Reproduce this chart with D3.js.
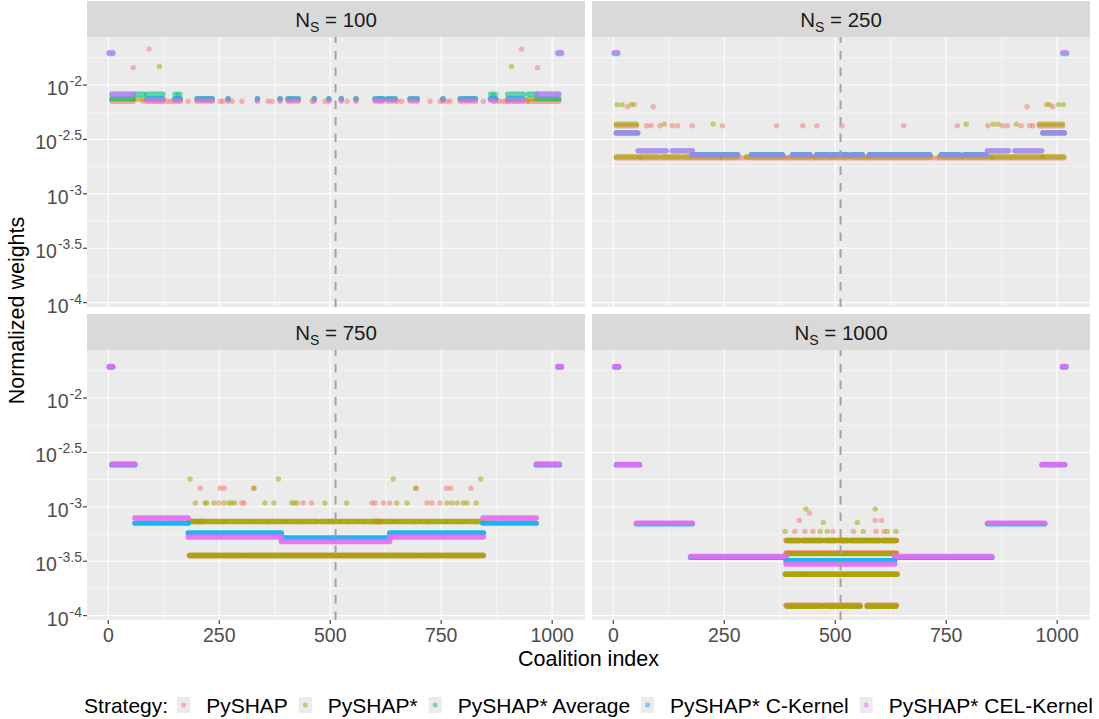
<!DOCTYPE html>
<html lang="en">
<head>
<meta charset="utf-8">
<title>Normalized weights by coalition index</title>
<script src="https://cdn.jsdelivr.net/npm/d3@7"></script>
<style>
  body { margin: 0; background: #fff; }
  svg { font-family: "Liberation Sans", Arial, Helvetica, sans-serif; }
</style>
</head>
<body>
<script>
// facets, legend entries and ggplot hue colours
var facets = ["100", "250", "750", "1000"];
var strategies = ["PySHAP", "PySHAP*", "PySHAP* Average", "PySHAP* C-Kernel", "PySHAP* CEL-Kernel"];
var colors = ["#F8766D", "#A3A500", "#00BF7D", "#00B0F6", "#E76BF3"];

var xTicks = [0, 250, 500, 750, 1000];
var xMinor = [125, 375, 625, 875];
var yTicks = [-2, -2.5, -3, -3.5, -4];          // log10 of the weight
var yTickLabels = ["-2", "-2.5", "-3", "-3.5", "-4"];
var yMinor = [-1.75, -2.25, -2.75, -3.25, -3.75];
var splitIndex = 512;

// rows: [strategy, log10 weight, single coalitions, runs of consecutive coalitions [from, to]]
var ns100Mid = [150, 156, 162, 200, 207, 214, 221, 228, 234, 270, 336, 387, 405, 412, 420, 428, 464, 497, 525, 558,
  601, 608, 613, 619, 630, 638, 646, 680, 688, 696, 754, 793, 800, 807, 814, 820, 827, 861, 867, 873];
var ns100 = [
  [0, -1.67, [92, 931], []],
  [0, -1.84, [56, 967], []],
  [0, -2.15, [78, 132, 139, 146, 150, 156, 162, 180, 200, 207, 214, 221, 228, 234, 252, 259, 270, 279, 301, 336, 360, 369,
    387, 405, 412, 420, 428, 459, 464, 488, 497, 525, 538, 558, 601, 608, 613, 619, 630, 638, 646, 652, 661, 680, 688, 696,
    725, 748, 754, 763, 770, 793, 800, 807, 814, 820, 827, 845, 867, 872, 880, 888, 896, 944],
    [[8, 56], [87, 123], [900, 935], [946, 1015]]],
  [1, -1.83, [115, 908], []],
  [1, -2.13, ns100Mid, [[8, 56], [60, 80], [87, 123], [900, 935], [946, 1015]]],
  [2, -2.085, [150, 156, 162, 861, 867, 873], [[60, 80], [87, 123], [900, 935], [946, 966]]],
  [2, -2.125, ns100Mid, [[8, 56], [966, 1015]]],
  [3, -1.71, [], [[2, 10], [1013, 1021]]],
  [3, -2.085, [], [[8, 56], [966, 1015]]],
  [3, -2.125, ns100Mid, [[87, 123], [900, 935]]],
  [4, -1.70, [], [[2, 10], [1013, 1021]]],
  [4, -2.085, [], [[8, 56], [966, 1015]]],
  [4, -2.14, ns100Mid, [[87, 123], [900, 935]]]
];

var ns250Low = [[178, 232], [239, 280], [311, 381], [404, 443], [458, 487], [494, 528], [537, 561], [577, 616],
  [623, 713], [739, 780], [791, 840]];
var ns250 = [
  [0, -2.20, [32, 90, 932, 990], []],
  [0, -2.375, [75, 85, 105, 133, 145, 178, 246, 368, 427, 459, 515, 654, 775, 844, 877, 888, 919, 938, 945],
    [[7, 52], [960, 1012]]],
  [0, -2.67, [], [[7, 60], [65, 240], [245, 290], [300, 390], [395, 450], [455, 570], [575, 720], [730, 850], [855, 1015]]],
  [1, -2.18, [9, 20, 40, 47, 976, 983, 1003, 1014], []],
  [1, -2.36, [115, 225, 795, 856, 867, 908], [[7, 52], [960, 1012]]],
  [1, -2.66, [], [[7, 52], [60, 100], [110, 150], [160, 240], [245, 280], [300, 385], [400, 445], [455, 490], [494, 528],
    [535, 565], [575, 620], [625, 715], [735, 785], [790, 850], [855, 965], [968, 1015]]],
  [2, -2.44, [], [[7, 55], [968, 1016]]],
  [2, -2.64, [], ns250Low],
  [3, -1.71, [], [[2, 10], [1013, 1021]]],
  [3, -2.44, [], [[7, 55], [968, 1016]]],
  [3, -2.605, [], [[56, 119], [133, 178], [843, 890], [905, 965]]],
  [3, -2.64, [], ns250Low],
  [4, -1.70, [], [[2, 10], [1013, 1021]]],
  [4, -2.44, [], [[7, 55], [968, 1016]]],
  [4, -2.605, [], [[56, 119], [133, 178], [843, 890], [905, 965]]],
  [4, -2.645, [], ns250Low]
];

var ns750 = [
  [0, -2.83, [207, 252, 261, 328, 693, 762, 771, 817], []],
  [0, -2.965, [249, 301, 306, 439, 458, 594, 601, 620, 634, 718, 729, 747], []],
  [0, -3.135, [190, 230, 262, 290, 320, 360, 395, 430, 470, 500, 540, 575, 610, 650, 690, 720, 760, 790, 830],
    [[200, 215], [600, 615]]],
  [0, -3.447, [], [[183, 845]]],
  [1, -2.745, [184, 383, 642, 839], []],
  [1, -2.83, [328, 693], []],
  [1, -2.965, [196, 218, 222, 238, 261, 272, 278, 285, 353, 373, 413, 419, 425, 488, 537, 650, 673, 763, 774, 786, 800,
    808, 829], []],
  [1, -3.135, [], [[183, 200], [205, 260], [265, 330], [335, 400], [405, 470], [478, 520], [525, 560], [565, 640],
    [645, 700], [705, 760], [765, 800], [805, 845]]],
  [1, -3.447, [], [[183, 300], [305, 520], [525, 700], [705, 845]]],
  [3, -1.715, [], [[2, 10], [1013, 1021]]],
  [3, -2.615, [], [[8, 60], [964, 1016]]],
  [3, -3.15, [], [[60, 180], [844, 964]]],
  [3, -3.24, [], [[180, 390], [634, 845]]],
  [3, -3.286, [], [[390, 634]]],
  [4, -1.71, [], [[2, 10], [1013, 1021]]],
  [4, -2.607, [], [[8, 60], [964, 1016]]],
  [4, -3.103, [], [[60, 180], [844, 964]]],
  [4, -3.278, [], [[180, 390], [634, 845]]],
  [4, -3.318, [], [[390, 634]]]
];

var ns1000 = [
  [0, -3.057, [442], []],
  [0, -3.125, [419, 590, 604], []],
  [0, -3.226, [409, 432, 450, 495, 541, 592, 610], []],
  [0, -3.30, [513], []],
  [0, -3.31, [], [[389, 420], [425, 470], [475, 530], [535, 600], [605, 638]]],
  [0, -3.425, [], [[389, 638]]],
  [0, -3.62, [], [[387, 640]]],
  [0, -3.905, [], [[389, 470], [478, 556], [572, 638]]],
  [1, -3.02, [434, 590], []],
  [1, -3.143, [473, 550], []],
  [1, -3.226, [387, 466, 482, 563, 617, 637], []],
  [1, -3.31, [], [[392, 418], [428, 450], [455, 470], [480, 500], [510, 528], [535, 560], [563, 580], [585, 600], [608, 636]]],
  [1, -3.43, [], [[392, 470], [475, 525], [530, 636]]],
  [1, -3.62, [], [[389, 430], [435, 520], [525, 638]]],
  [1, -3.915, [], [[392, 470], [480, 556], [572, 636]]],
  [3, -1.715, [], [[3, 12], [1012, 1020]]],
  [3, -2.615, [], [[7, 59], [966, 1017]]],
  [3, -3.155, [], [[52, 178], [843, 972]]],
  [3, -3.465, [], [[174, 389], [634, 853]]],
  [3, -3.495, [], [[389, 634]]],
  [4, -1.71, [], [[3, 12], [1012, 1020]]],
  [4, -2.61, [], [[7, 59], [966, 1017]]],
  [4, -3.15, [], [[52, 178], [843, 972]]],
  [4, -3.455, [], [[174, 389], [634, 853]]],
  [4, -3.525, [], [[389, 634]]]
];

var panelRows = [ns100, ns250, ns750, ns1000];
var runAlpha = [0.6, 0.6, 0.9, 0.9];

// layout
var W = 1099, H = 719;
var panelW = 498, panelH = 270, stripH = 36;
var colX = [87, 592], rowTop = [1, 314];
var r = 2.7;

var svg = d3.select("body").append("svg")
  .attr("width", W)
  .attr("height", H);

svg.append("rect").attr("width", W).attr("height", H).attr("fill", "#fff");

var x = d3.scaleLinear().domain([-48, 1074]).range([0, panelW]);
var y = d3.scaleLog().domain([Math.pow(10, -4.04), Math.pow(10, -1.559)]).range([panelH, 0]);
function yv(v) { return y(Math.pow(10, v)); }

facets.forEach(function(f, i) {
  var col = i % 2, row = Math.floor(i / 2);
  var px = colX[col], top = rowTop[row];

  // strip
  var strip = svg.append("g").attr("transform", "translate(" + px + "," + top + ")");
  strip.append("rect").attr("width", panelW).attr("height", stripH).attr("fill", "#D9D9D9");
  var st = strip.append("text")
    .attr("x", panelW / 2).attr("y", 25.5)
    .attr("text-anchor", "middle")
    .attr("font-size", 20.5).attr("fill", "#1A1A1A");
  st.append("tspan").text("N");
  st.append("tspan").attr("font-size", 14).attr("dy", 5).text("S");
  st.append("tspan").attr("dy", -5).text(" = " + f);

  var g = svg.append("g").attr("transform", "translate(" + px + "," + (top + stripH) + ")");
  g.append("rect").attr("width", panelW).attr("height", panelH).attr("fill", "#EBEBEB");

  // grid
  g.selectAll(".ymin").data(yMinor).enter().append("line")
    .attr("x1", 0).attr("x2", panelW)
    .attr("y1", function(d) { return yv(d); }).attr("y2", function(d) { return yv(d); })
    .attr("stroke", "#fff").attr("stroke-width", 0.55);
  g.selectAll(".xmin").data(xMinor).enter().append("line")
    .attr("y1", 0).attr("y2", panelH)
    .attr("x1", function(d) { return x(d); }).attr("x2", function(d) { return x(d); })
    .attr("stroke", "#fff").attr("stroke-width", 0.55);
  g.selectAll(".ymaj").data(yTicks).enter().append("line")
    .attr("x1", 0).attr("x2", panelW)
    .attr("y1", function(d) { return yv(d); }).attr("y2", function(d) { return yv(d); })
    .attr("stroke", "#fff").attr("stroke-width", 1.1);
  g.selectAll(".xmaj").data(xTicks).enter().append("line")
    .attr("y1", 0).attr("y2", panelH)
    .attr("x1", function(d) { return x(d); }).attr("x2", function(d) { return x(d); })
    .attr("stroke", "#fff").attr("stroke-width", 1.1);

  // points, in row order (red first, pink last)
  var alpha = runAlpha[i];
  panelRows[i].forEach(function(rw) {
    var c = colors[rw[0]], cy = yv(rw[1]);
    var layer = g.append("g");
    layer.selectAll("line").data(rw[3]).enter().append("line")
      .attr("x1", function(d) { return x(d[0]); })
      .attr("x2", function(d) { return x(d[1]); })
      .attr("y1", cy).attr("y2", cy)
      .attr("stroke", c).attr("stroke-width", 2 * r)
      .attr("stroke-linecap", "round")
      .attr("stroke-opacity", alpha);
    layer.selectAll("circle").data(rw[2]).enter().append("circle")
      .attr("cx", function(d) { return x(d); })
      .attr("cy", cy).attr("r", r)
      .attr("fill", c).attr("fill-opacity", 0.5);
  });

  // split line
  g.append("line")
    .attr("x1", x(splitIndex)).attr("x2", x(splitIndex))
    .attr("y1", panelH).attr("y2", 0)
    .attr("stroke", "#A3A3A3").attr("stroke-width", 2)
    .attr("stroke-dasharray", "8.5,8");

  // y axis on left column
  if (col === 0) {
    var ya = g.append("g");
    yTicks.forEach(function(t, k) {
      var ty = yv(t);
      ya.append("line").attr("x1", -4).attr("x2", 0).attr("y1", ty).attr("y2", ty)
        .attr("stroke", "#333").attr("stroke-width", 1.1);
      var tx = ya.append("text").attr("x", -5).attr("y", ty + 10)
        .attr("text-anchor", "end").attr("fill", "#4D4D4D").attr("font-size", 19.5);
      tx.append("tspan").text("10");
      tx.append("tspan").attr("font-size", 14).attr("dy", -9).attr("dx", 1).text(yTickLabels[k]);
    });
  }
  // x axis on bottom row
  if (row === 1) {
    var xa = g.append("g").attr("transform", "translate(0," + panelH + ")");
    xTicks.forEach(function(t) {
      xa.append("line").attr("x1", x(t)).attr("x2", x(t)).attr("y1", 0).attr("y2", 4)
        .attr("stroke", "#333").attr("stroke-width", 1.1);
      xa.append("text").attr("x", x(t)).attr("y", 22)
        .attr("text-anchor", "middle").attr("fill", "#4D4D4D").attr("font-size", 19.5)
        .text(t);
    });
  }
});

// axis titles
svg.append("text")
  .attr("x", (colX[0] + colX[1] + panelW) / 2).attr("y", 666)
  .attr("text-anchor", "middle").attr("font-size", 21.5).attr("fill", "#000")
  .text("Coalition index");
svg.append("text")
  .attr("transform", "translate(24," + ((rowTop[0] + rowTop[1] + stripH + panelH) / 2) + ") rotate(-90)")
  .attr("text-anchor", "middle").attr("font-size", 21.5).attr("fill", "#000")
  .text("Normalized weights");

// legend, centred under the panels
var leg = svg.append("g");
var legY = 705;
var cursor = 0;
var title = leg.append("text").attr("x", 0).attr("y", legY + 7.5)
  .attr("font-size", 21).attr("fill", "#000").text("Strategy:");
cursor = title.node().getComputedTextLength() + 9;
strategies.forEach(function(s, i) {
  leg.append("rect").attr("x", cursor).attr("y", legY - 8).attr("width", 13).attr("height", 16)
    .attr("fill", "#EBEBEB");
  leg.append("circle").attr("cx", cursor + 6.5).attr("cy", legY).attr("r", 2.5)
    .attr("fill", colors[i]).attr("fill-opacity", 0.5);
  cursor += 13 + 16;
  var t = leg.append("text").attr("x", cursor).attr("y", legY + 7.5)
    .attr("font-size", 21).attr("fill", "#000").text(s);
  cursor += t.node().getComputedTextLength() + 11;
});
cursor -= 11;
var centre = (colX[0] + colX[1] + panelW) / 2;
leg.attr("transform", "translate(" + (centre - cursor / 2) + ",0)");
</script>
</body>
</html>
